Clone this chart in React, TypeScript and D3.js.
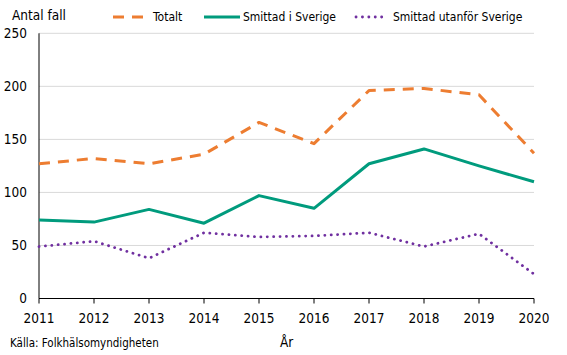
import React from "react";
import * as d3 from "d3";

const years = [2011, 2012, 2013, 2014, 2015, 2016, 2017, 2018, 2019, 2020];
const totalt = [127, 132, 127, 136, 166, 146, 196, 198, 192, 137];
const smittadSverige = [74, 72, 84, 71, 97, 85, 127, 141, 125, 110];
const smittadUtanfor = [49, 54, 38, 62, 58, 59, 62, 49, 61, 23];
const yTicks = [0, 50, 100, 150, 200, 250];

const W = 567;
const H = 355;
const FONT = "'DejaVu Sans Condensed', 'DejaVu Sans', sans-serif";

export default function App() {
  const x = d3.scaleLinear().domain([2011, 2020]).range([39, 534]);
  const y = d3.scaleLinear().domain([0, 250]).range([298.5, 33.3]);
  const line = d3
    .line<number>()
    .x((_, i) => x(years[i]))
    .y((d) => y(d));

  const series = [
    { name: "Totalt", data: totalt, color: "#ED7D31", dash: "11,8", width: 3, cap: "butt", lx: 113, lx2: 147, tx: 153 },
    { name: "Smittad i Sverige", data: smittadSverige, color: "#009B7D", dash: "none", width: 3, cap: "butt", lx: 204, lx2: 240, tx: 243 },
    { name: "Smittad utanför Sverige", data: smittadUtanfor, color: "#7030A0", dash: "0.1,6.3", width: 2.8, cap: "round", lx: 356, lx2: 388, tx: 393 },
  ];

  return (
    <svg width={W} height={H} style={{ position: "absolute", left: 0, top: 0 }} fontFamily={FONT} fontStretch="condensed">
      <rect width={W} height={H} fill="#fff" />
      {yTicks.filter((t) => t > 0).map((t) => (
        <line key={t} x1={39} x2={534} y1={y(t)} y2={y(t)} stroke="#d9d9d9" strokeWidth={1} />
      ))}
      {yTicks.map((t) => (
        <text key={t} x={27} y={y(t)} dy="0.35em" textAnchor="end" fontSize={13.5} fill="#000">
          {t}
        </text>
      ))}
      {years.map((yr) => (
        <g key={yr}>
          <line x1={x(yr)} x2={x(yr)} y1={y(0)} y2={y(0) + 5} stroke="#000" strokeWidth={1} />
          <text x={x(yr)} y={318} dy="0.35em" textAnchor="middle" fontSize={13.5} fill="#000">
            {yr}
          </text>
        </g>
      ))}
      <line x1={39} x2={39} y1={y(250)} y2={y(0)} stroke="#000" strokeWidth={1} />
      <line x1={39} x2={534} y1={y(0)} y2={y(0)} stroke="#000" strokeWidth={1} />
      {series.map((s) => (
        <path
          key={s.name}
          d={line(s.data) || ""}
          fill="none"
          stroke={s.color}
          strokeWidth={s.width}
          strokeDasharray={s.dash}
          strokeLinecap={s.cap as any}
          strokeLinejoin="round"
        />
      ))}
      {series.map((s) => (
        <g key={s.name + "l"}>
          <line x1={s.lx} x2={s.lx2} y1={17} y2={17} stroke={s.color} strokeWidth={s.width} strokeDasharray={s.dash} strokeLinecap={s.cap as any} />
          <text x={s.tx} y={17} dy="0.35em" fontSize={12} fill="#000">
            {s.name}
          </text>
        </g>
      ))}
      <text x={12} y={15} dy="0.35em" fontSize={13.5} fill="#000">Antal fall</text>
      <text x={280} y={342} dy="0.35em" fontSize={13.5} fill="#000">År</text>
      <text x={10} y={343} dy="0.35em" fontSize={11.5} fill="#000">Källa:  Folkhälsomyndigheten</text>
    </svg>
  );
}
